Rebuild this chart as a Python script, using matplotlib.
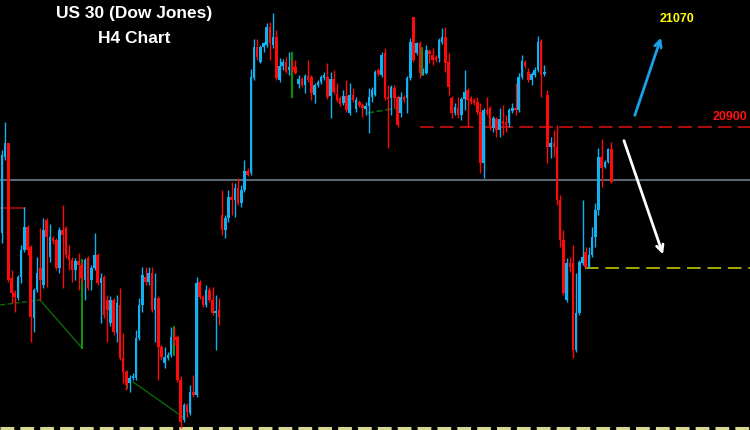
# US 30 (Dow Jones) H4 candlestick chart

import numpy as np
import matplotlib.pyplot as plt

# candle data (open, high, low, close)
opens = [20688, 20840, 20868, 20598, 20568, 20558, 20600, 20654, 20700, 20660,
         20518, 20574, 20618, 20584, 20714, 20640, 20678, 20674, 20618, 20694,
         20698, 20644, 20634, 20614, 20632, 20624, 20594, 20638, 20594, 20618,
         20644, 20588, 20600, 20554, 20508, 20554, 20488, 20544, 20438, 20410,
         20388, 20398, 20398, 20478, 20544, 20600, 20590, 20608, 20534, 20558,
         20460, 20428, 20438, 20444, 20480, 20480, 20394, 20314, 20344, 20328,
         20370, 20364, 20590, 20560, 20544, 20574, 20554, 20528, 20534, 20724,
         20694, 20718, 20760, 20754, 20778, 20748, 20774, 20812, 20808, 20998,
         21060, 21030, 21060, 21064, 21100, 21064, 21080, 20994, 21022, 21030,
         21014, 21020, 21020, 20986, 20996, 20984, 21002, 21000, 20964, 20984,
         20990, 20998, 21000, 20962, 20996, 20966, 20958, 20948, 20962, 20928,
         20964, 20936, 20950, 20944, 20936, 20942, 20960, 20964, 21014, 21004,
         21048, 20960, 20958, 20978, 20960, 20928, 20960, 20958, 20998, 21120,
         21048, 21068, 21008, 21008, 21052, 21044, 21040, 21038, 21070, 21080,
         21030, 20958, 20928, 20938, 20924, 20956, 20974, 20958, 20954, 20950,
         20930, 20828, 20934, 20938, 20898, 20916, 20894, 20912, 20910, 20908,
         20932, 20938, 20934, 21000, 21030, 21010, 20994, 21004, 21014, 21072,
         21006, 20964, 20860, 20868, 20860, 20754, 20674, 20554, 20628, 20628,
         20454, 20528, 20628, 20650, 20620, 20644, 20680, 20734, 20840, 20820,
         20830, 20856]
highs = [20854, 20910, 20868, 20614, 20574, 20604, 20664, 20740, 20704, 20664,
         20578, 20640, 20698, 20718, 20718, 20706, 20682, 20678, 20700, 20744,
         20702, 20664, 20640, 20638, 20648, 20630, 20638, 20642, 20624, 20688,
         20648, 20608, 20604, 20564, 20562, 20558, 20564, 20578, 20488, 20414,
         20404, 20408, 20494, 20558, 20620, 20620, 20620, 20620, 20608, 20562,
         20464, 20460, 20450, 20500, 20500, 20484, 20402, 20348, 20348, 20384,
         20404, 20600, 20594, 20564, 20584, 20580, 20580, 20564, 20558, 20774,
         20724, 20774, 20790, 20788, 20798, 20784, 20834, 20818, 21016, 21076,
         21076, 21064, 21070, 21108, 21110, 21128, 21094, 21038, 21036, 21040,
         21050, 21034, 21034, 21004, 21000, 21006, 21034, 21004, 20988, 20994,
         21004, 21010, 21028, 21010, 21014, 20988, 20962, 20974, 20994, 20988,
         20978, 20960, 20954, 20948, 20950, 20978, 20980, 21014, 21018, 21050,
         21058, 20984, 20984, 20984, 20964, 20970, 20964, 21002, 21078, 21120,
         21070, 21072, 21018, 21064, 21056, 21058, 21044, 21078, 21098, 21100,
         21048, 20962, 20948, 20960, 20960, 21014, 20978, 20962, 20958, 20960,
         20948, 20938, 20960, 20942, 20922, 20920, 20938, 20944, 20924, 20938,
         20948, 20988, 21008, 21044, 21034, 21018, 21010, 21020, 21082, 21076,
         21024, 20974, 20880, 20894, 20904, 20764, 20694, 20638, 20640, 20664,
         20608, 20634, 20754, 20660, 20660, 20700, 20748, 20858, 20876, 20834,
         20858, 20870]
lows = [20668, 20834, 20590, 20548, 20530, 20554, 20588, 20650, 20644, 20470,
        20490, 20570, 20554, 20578, 20580, 20630, 20666, 20614, 20608, 20578,
        20638, 20614, 20590, 20594, 20574, 20590, 20554, 20574, 20574, 20614,
        20584, 20508, 20518, 20470, 20502, 20484, 20470, 20434, 20388, 20374,
        20370, 20394, 20394, 20474, 20530, 20584, 20584, 20530, 20470, 20394,
        20434, 20418, 20434, 20440, 20464, 20390, 20298, 20310, 20320, 20324,
        20360, 20360, 20556, 20540, 20540, 20550, 20524, 20454, 20504, 20684,
        20678, 20710, 20724, 20720, 20744, 20740, 20770, 20802, 20804, 20994,
        21034, 21028, 21050, 21060, 21034, 21058, 20994, 20990, 21014, 21008,
        21004, 21010, 21006, 20978, 20980, 20968, 20990, 20954, 20948, 20980,
        20986, 20994, 20956, 20918, 20966, 20950, 20942, 20944, 20930, 20924,
        20950, 20930, 20940, 20920, 20924, 20888, 20950, 20962, 21002, 21000,
        20954, 20858, 20924, 20940, 20900, 20920, 20950, 20928, 20994, 21030,
        21044, 20998, 21004, 21006, 21028, 21024, 21030, 21030, 21066, 21010,
        20964, 20918, 20924, 20918, 20914, 20934, 20900, 20946, 20944, 20926,
        20808, 20798, 20924, 20894, 20890, 20880, 20880, 20884, 20890, 20900,
        20928, 20924, 20930, 20996, 21018, 20990, 20984, 21000, 21010, 20960,
        21002, 20828, 20838, 20840, 20744, 20660, 20564, 20550, 20610, 20438,
        20450, 20524, 20624, 20618, 20618, 20640, 20660, 20724, 20780, 20818,
        20828, 20788]
closes = [20844, 20868, 20594, 20568, 20560, 20600, 20654, 20700, 20654, 20520,
          20574, 20608, 20594, 20694, 20680, 20680, 20672, 20618, 20694, 20684,
          20644, 20634, 20614, 20632, 20624, 20598, 20634, 20578, 20618, 20644,
          20588, 20598, 20524, 20534, 20554, 20490, 20548, 20438, 20410, 20384,
          20398, 20402, 20478, 20544, 20604, 20590, 20608, 20534, 20558, 20460,
          20440, 20440, 20444, 20480, 20474, 20394, 20310, 20344, 20330, 20370,
          20364, 20588, 20560, 20544, 20574, 20554, 20528, 20532, 20520, 20694,
          20718, 20760, 20754, 20778, 20748, 20774, 20812, 20804, 21000, 21060,
          21040, 21060, 21068, 21100, 21068, 21080, 20998, 21022, 21030, 21010,
          21020, 21016, 21008, 20996, 20984, 21002, 20994, 20968, 20984, 20990,
          21000, 21004, 20960, 20996, 20970, 20954, 20946, 20962, 20934, 20964,
          20954, 20954, 20944, 20938, 20942, 20960, 20974, 21010, 21006, 21044,
          20958, 20956, 20980, 20958, 20904, 20960, 20954, 20998, 21070, 21034,
          21068, 21008, 21010, 21054, 21046, 21034, 21034, 21074, 21080, 21028,
          20980, 20928, 20940, 20924, 20956, 20970, 20954, 20950, 20948, 20930,
          20828, 20934, 20928, 20900, 20918, 20894, 20916, 20906, 20904, 20934,
          20938, 20934, 21000, 21032, 21022, 20994, 21006, 21014, 21070, 21004,
          21010, 20860, 20868, 20860, 20754, 20674, 20568, 20628, 20620, 20454,
          20528, 20630, 20640, 20620, 20644, 20680, 20734, 20840, 20818, 20830,
          20856, 20790]

# levels
resist_level = 20900
support_level = 20618
mid_level = 20794
target_up = 21070

blue = '#12B2F2'
red = '#FF0A0A'

o = np.array(opens)
c = np.array(closes)
h = np.maximum(np.array(highs), np.maximum(o, c))
l = np.minimum(np.array(lows), np.minimum(o, c))
x = np.arange(len(o))
up = c >= o
cols = np.where(up, blue, red)

fig = plt.figure(figsize=(7.5, 4.3), dpi=100, facecolor='black')
ax = fig.add_axes([0, 0, 1, 1])
ax.set_facecolor('black')
ax.set_xlim(-0.63, 234.5)
ax.set_ylim(20294, 21154)
ax.axis('off')

# horizontal lines
ax.axhline(mid_level, color='#5A6670', lw=1.5, zorder=1)
ax.plot([131, 234.5], [resist_level, resist_level], color='#E01010', lw=1.1,
        dashes=(9, 4), zorder=1)
ax.plot([182.8, 234.5], [support_level, support_level], color='#A8A800', lw=1.4,
        dashes=(7, 3.5), zorder=1)
ax.plot([-0.63, 234.5], [20298, 20298], color='#D8D890', lw=2.2,
        dashes=(4.5, 2), zorder=1)

# zigzag indicator bits
dkgreen = '#0A6A0A'
ltgreen = '#10B010'
ax.plot([-0.6, 11.9], [20544, 20554], color=dkgreen, lw=1, ls='--')
ax.plot([11.9, 25.1], [20554, 20458], color=dkgreen, lw=1)
ax.plot([25.1, 25.1], [20634, 20458], color=ltgreen, lw=1.2)
ax.plot([39.2, 39.2], [20410, 20378], color=ltgreen, lw=1.2)
ax.plot([41.1, 56.7], [20390, 20320], color=dkgreen, lw=1)
ax.plot([53.9, 53.9], [20500, 20444], color=ltgreen, lw=1.2)
ax.plot([90.9, 90.9], [21048, 20960], color='#0A8A0A', lw=1.6)
ax.plot([131.7, 131.7], [21058, 21004], color=ltgreen, lw=1.2)
ax.plot([114.7, 125.7], [20928, 20940], color=dkgreen, lw=1.2, ls='--')
ax.plot([-0.6, 7.2], [20738, 20738], color='#A01010', lw=1.2)

# candles
ax.vlines(x, l, h, colors=cols, lw=1, zorder=2)
body = np.maximum(np.abs(c - o), 3)
ax.bar(x, body, bottom=np.minimum(o, c), width=0.8, color=cols,
       linewidth=0, zorder=3)

# arrows
ax.annotate('', xy=(206.9, 21084), xytext=(198.1, 20918),
            arrowprops=dict(arrowstyle='->', color='#1AA0E8', lw=2,
                            mutation_scale=12))
ax.annotate('', xy=(207.5, 20640), xytext=(194.7, 20878),
            arrowprops=dict(arrowstyle='->', color='white', lw=2,
                            mutation_scale=12))

ax.text(211.6, 21116, str(target_up), color='#FFFF00', fontsize=9,
        fontweight='bold', family='Liberation Sans', ha='center', va='center',
        zorder=5)
ax.text(228.2, 20920, str(resist_level), color='#FF1010', fontsize=9,
        fontweight='bold', family='Liberation Sans', ha='center', va='center')

fig.text(0.179, 0.968, 'US 30 (Dow Jones)', color='white', fontsize=12.5,
         fontweight='bold', family='Liberation Sans', ha='center', va='center')
fig.text(0.179, 0.91, 'H4 Chart', color='white', fontsize=12.5,
         fontweight='bold', family='Liberation Sans', ha='center', va='center')

fig.savefig('out.png', dpi=100, facecolor='black')
